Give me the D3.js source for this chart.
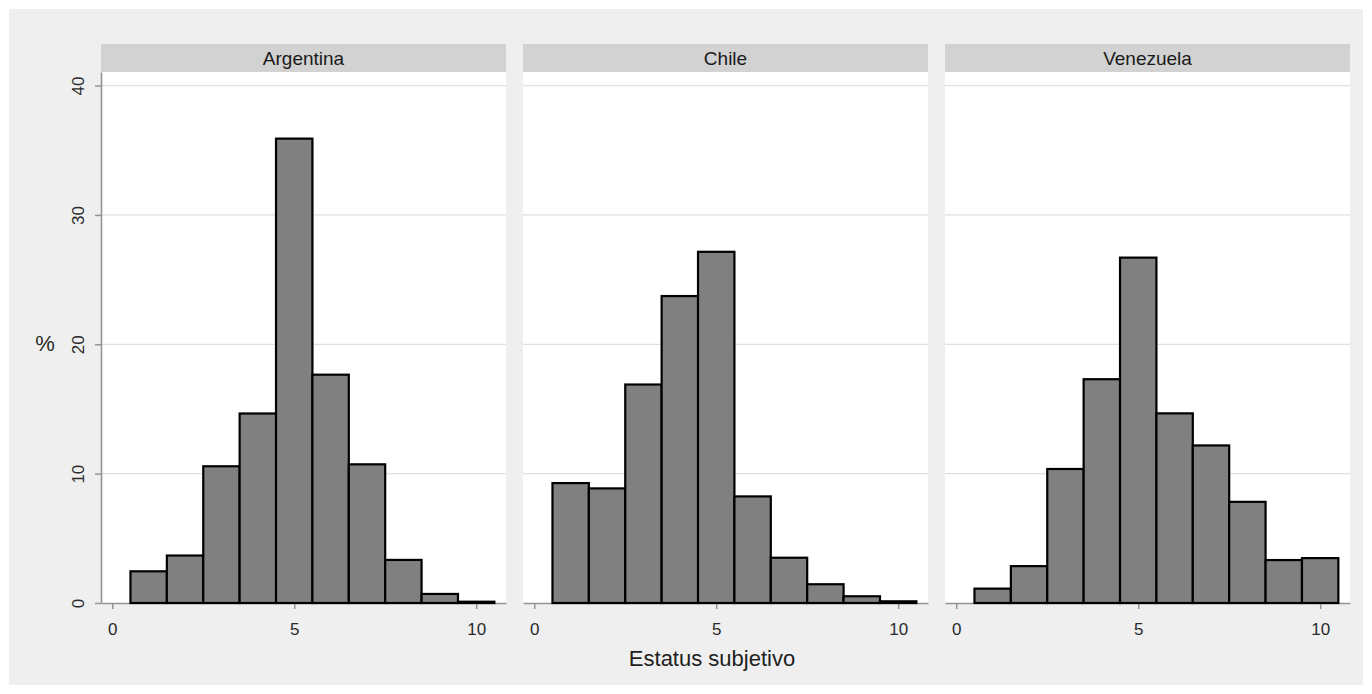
<!DOCTYPE html>
<html><head><meta charset="utf-8">
<script src="https://cdn.jsdelivr.net/npm/d3@7"></script>
<style>body{margin:0;background:#fff}svg{display:block}</style>
</head><body><svg id="c" width="1372" height="694"></svg>
<script>
// ---- data ----
const countries = ["Argentina", "Chile", "Venezuela"];
const bins = [1, 2, 3, 4, 5, 6, 7, 8, 9, 10];
const argentina = [2.45, 3.67, 10.57, 14.65, 35.9, 17.65, 10.72, 3.33, 0.7, 0.1];
const chile = [9.27, 8.86, 16.89, 23.73, 27.15, 8.24, 3.5, 1.45, 0.52, 0.13];
const venezuela = [1.11, 2.85, 10.36, 17.3, 26.7, 14.66, 12.18, 7.82, 3.32, 3.47];
const xTicks = [0, 5, 10];
const yTicks = [0, 10, 20, 30, 40];
const xTitle = "Estatus subjetivo";
const yTitle = "%";
const seriesList = [argentina, chile, venezuela];

// ---- layout ----
const W = 1372, H = 694;
const svg = d3.select("#c");
const font = "'Liberation Sans', Arial, sans-serif";
svg.append("rect").attr("x", 0).attr("y", 0).attr("width", W).attr("height", H).attr("fill", "#ffffff");
svg.append("rect").attr("x", 9).attr("y", 9).attr("width", W - 18).attr("height", H - 18).attr("fill", "#efefef");

const panelLefts = [101, 523, 945];
const panelW = 405;
const plotTop = 72, plotBottom = 603;
const stripTop = 44, stripH = 28;

const y = d3.scaleLinear().domain([0, 41.05]).range([plotBottom, plotTop]);

countries.forEach((name, i) => {
  const L = panelLefts[i];
  const x = d3.scaleLinear().domain([-0.31, 10.82]).range([L, L + panelW]);
  const g = svg.append("g");
  // strip
  g.append("rect").attr("x", L).attr("y", stripTop).attr("width", panelW).attr("height", stripH).attr("fill", "#d2d2d2");
  g.append("text").attr("x", L + panelW / 2).attr("y", stripTop + stripH / 2).attr("dy", "0.35em")
    .attr("text-anchor", "middle").attr("font-family", font).attr("font-size", 19).attr("fill", "#1a1a1a").text(name);
  // plot bg
  g.append("rect").attr("x", L).attr("y", plotTop).attr("width", panelW).attr("height", plotBottom - plotTop).attr("fill", "#ffffff");
  // gridlines
  g.selectAll(".grid").data(yTicks.filter(t => t > 0)).enter().append("line")
    .attr("x1", L).attr("x2", L + panelW).attr("y1", d => y(d)).attr("y2", d => y(d))
    .attr("stroke", "#e0e0e0").attr("stroke-width", 1.3);
  // x axis
  const xa = g.append("g").attr("transform", `translate(0,${plotBottom})`)
    .call(d3.axisBottom(x).tickValues(xTicks).tickSize(6).tickPadding(14).tickSizeOuter(0));
  xa.select(".domain").attr("stroke", "#949494").attr("stroke-width", 1.6);
  xa.selectAll(".tick line").attr("stroke", "#949494").attr("stroke-width", 1.5);
  xa.selectAll(".tick text").attr("font-family", font).attr("font-size", 17).attr("fill", "#2a2a2a");
  // bars
  g.selectAll(".bar").data(bins.map((b, k) => ({ b, v: seriesList[i][k] }))).enter().append("rect")
    .attr("x", d => x(d.b - 0.5)).attr("width", d => x(d.b + 0.5) - x(d.b - 0.5))
    .attr("y", d => y(d.v)).attr("height", d => y(0) - y(d.v))
    .attr("fill", "#808080").attr("stroke", "#000").attr("stroke-width", 2.2);
  // y axis on first panel
  if (i === 0) {
    const ya = g.append("g").attr("transform", `translate(${L},0)`)
      .call(d3.axisLeft(y).tickValues(yTicks).tickSize(6).tickSizeOuter(0).tickFormat(d3.format("d")));
    ya.select(".domain").attr("stroke", "#949494").attr("stroke-width", 1.6);
    ya.selectAll(".tick line").attr("stroke", "#949494").attr("stroke-width", 1.5);
    ya.selectAll(".tick text").attr("font-family", font).attr("font-size", 17).attr("fill", "#2a2a2a")
      .attr("text-anchor", "middle").attr("x", 0)
      .attr("transform", "translate(-23,0) rotate(-90)").attr("dy", "0.35em");
  }
});

// axis titles
svg.append("text").attr("x", 712).attr("y", 658).attr("dy", "0.35em").attr("text-anchor", "middle")
  .attr("font-family", font).attr("font-size", 22).attr("fill", "#1e1e1e").text(xTitle);
svg.append("text").attr("x", 45).attr("y", 343).attr("dy", "0.35em").attr("text-anchor", "middle")
  .attr("font-family", font).attr("font-size", 22).attr("fill", "#2a2a2a").text(yTitle);
</script>
</body></html>
